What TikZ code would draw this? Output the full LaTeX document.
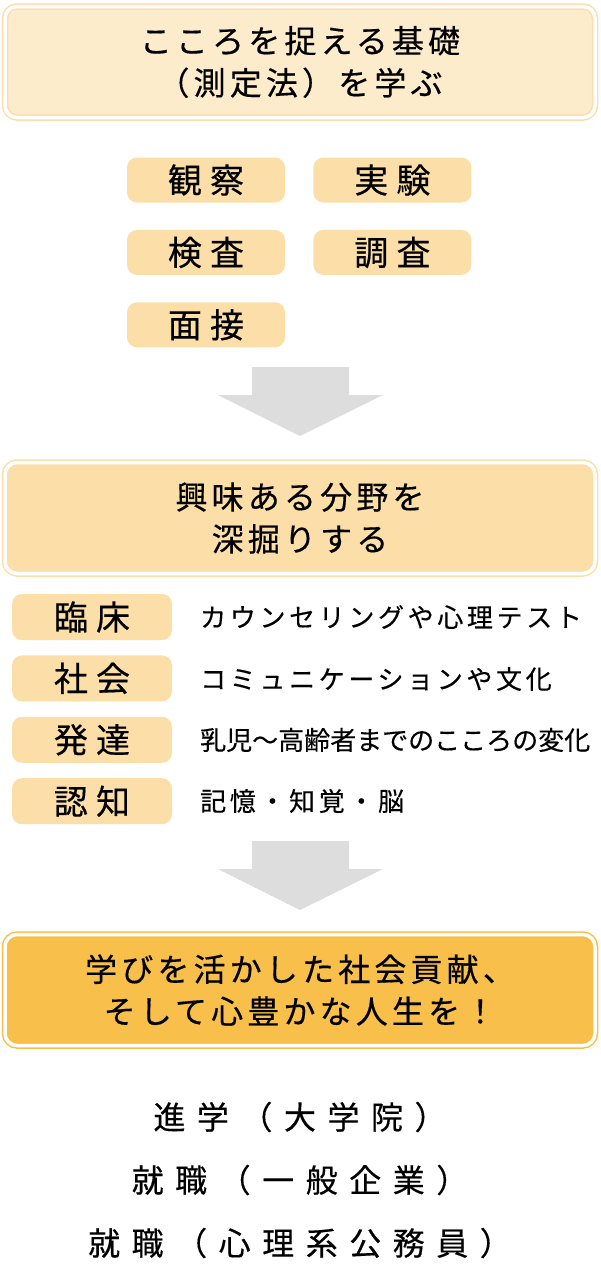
\documentclass[tikz,border=0pt]{standalone}
\usepackage{fontspec}
\usepackage{tikz}
\usetikzlibrary{positioning}

\setmainfont{Noto Sans CJK JP}
\newfontfamily\stagefam[LetterSpace=13, FakeBold=0.4]{Noto Sans CJK JP}
\newfontfamily\tagfam[LetterSpace=24, FakeBold=0.4]{Noto Sans CJK JP}
\newfontfamily\notefam[LetterSpace=14, FakeBold=0.3]{Noto Sans CJK JP}
\newfontfamily\tightfam[LetterSpace=0, FakeBold=0.3]{Noto Sans CJK JP}
\newfontfamily\careerfam[LetterSpace=36, FakeBold=0.4]{Noto Sans CJK JP}

\newcommand{\stagefont}{\stagefam\fontsize{32pt}{42pt}\selectfont}
\newcommand{\tagfont}{\tagfam\fontsize{34pt}{38pt}\selectfont}
\newcommand{\notefont}{\notefam\fontsize{26pt}{30pt}\selectfont}
\newcommand{\tightfont}{\tightfam\fontsize{26pt}{30pt}\selectfont}
\newcommand{\careerfont}{\careerfam\fontsize{32pt}{36pt}\selectfont}

\definecolor{paleorange}{HTML}{FDECCB}
\definecolor{lightorange}{HTML}{FCDFA8}
\definecolor{deeporange}{HTML}{F8BF4B}
\definecolor{arrowgray}{HTML}{DDDDDD}

\begin{document}
\begin{tikzpicture}[
    x=1pt, y=-1pt,
    stage/.style={
        rounded corners=12pt,
        minimum width=590pt,
        minimum height=111pt,
        line width=1.5pt,
        double=white,
        double distance=3.5pt,
        align=center,
        font=\stagefont
    },
    method/.style={
        fill=lightorange,
        rounded corners=10pt,
        minimum width=158pt,
        minimum height=45pt,
        inner sep=0pt,
        font=\tagfont
    },
    field/.style={method, minimum width=160pt, minimum height=46pt},
    note/.style={anchor=west, inner sep=0pt, font=\notefont},
    career/.style={inner sep=0pt, font=\careerfont},
    flow/.style={fill=arrowgray}
]
\useasboundingbox (0,0) rectangle (600,1280);

% step 1
\node[stage, fill=paleorange, draw=paleorange!85!orange] (learn) at (300,62)
    {こころを捉える基礎\\（測定法）を学ぶ};

\node[method] (obs) at (206,180) {観察};
\node[method] (exp) [right=28pt of obs] {実験};
\node[method] (test) [below=27pt of obs] {検査};
\node[method] (survey) [below=27pt of exp] {調査};
\node[method] (interview) [below=27pt of test] {面接};

\fill[flow] (252,367) -- (349,367) -- (349,395) -- (383,395)
    -- (300,436) -- (218,395) -- (252,395) -- cycle;

% step 2
\node[stage, fill=lightorange, draw=lightorange] (explore) at (300,518)
    {興味ある分野を\\深掘りする};

\node[field] (clinic) at (92,617) {臨床};
\node[field] (social) [below=15pt of clinic] {社会};
\node[field] (develop) [below=15pt of social] {発達};
\node[field] (cognit) [below=15pt of develop] {認知};

\node[note] (clinicnote) at (200,617) {カウンセリングや心理テスト};
\node[note] (socialnote) at (200,679) {コミュニケーションや文化};
\node[note, font=\tightfont] (developnote) at (200,740) {乳児〜高齢者までのこころの変化};
\node[note] (cognitnote) at (200,801) {記憶・知覚・脳};

\fill[flow] (252,841) -- (349,841) -- (349,869) -- (383,869)
    -- (300,910) -- (218,869) -- (252,869) -- cycle;

% step 3
\node[stage, fill=deeporange, draw=deeporange] (contrib) at (300,990)
    {学びを活かした社会貢献、\\そして心豊かな人生を！};

\node[career] (grad) at (300,1117) {進学（大学院）};
\node[career] (company) at (300,1180) {就職（一般企業）};
\node[career] (public) at (300,1243) {就職（心理系公務員）};

\end{tikzpicture}
\end{document}
